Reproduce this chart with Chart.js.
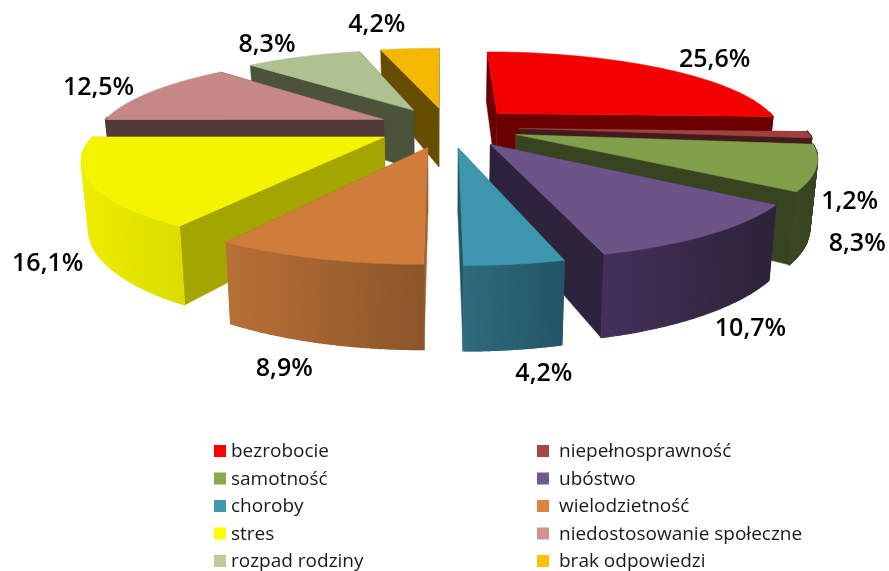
<!DOCTYPE html>
<html>
<head>
<meta charset="utf-8">
<style>
html, body { margin: 0; padding: 0; background: #fff; }
canvas { display: block; }
</style>
<script src="https://cdn.jsdelivr.net/npm/chart.js@4/dist/chart.umd.min.js"></script>
</head>
<body>
<canvas id="chart" width="889" height="571"></canvas>
<script>
const categories = ['bezrobocie', 'niepełnosprawność', 'samotność', 'ubóstwo', 'choroby',
    'wielodzietność', 'stres', 'niedostosowanie społeczne', 'rozpad rodziny', 'brak odpowiedzi'];
const percents = [25.6, 1.2, 8.3, 10.7, 4.2, 8.9, 16.1, 12.5, 8.3, 4.2];

const topColors = ['#f40000', '#a04040', '#82a04c', '#6c5489', '#3d96ae',
    '#d07c3b', '#f4f400', '#c68887', '#aec190', '#f5b800'];
const cutColors = ['#6b0000', '#451a1a', '#38431f', '#2e233d', '#235664',
    '#a06232', '#a5a500', '#52393a', '#4c533b', '#664d00'];
const wallFrom = ['#6b0000', '#451a1a', '#3a4721', '#43305a', '#2e6b7c',
    '#b87036', '#eeee00', '#52393a', '#4c533b', '#664d00'];
const wallTo = ['#6b0000', '#451a1a', '#38431f', '#2d2238', '#235564',
    '#8c5529', '#dcdc00', '#52393a', '#4c533b', '#664d00'];
const legendColors = ['#ff0000', '#a94444', '#8aa84e', '#71588f', '#4198af',
    '#db843d', '#ffff00', '#d09492', '#bacc97', '#ffc000'];
// label position relative to the middle of the slice's rim
const labelNudge = [[53, -8], [40, 67], [41, 76], [41, 94], [29, 110],
    [-33, 110], [-43, 81], [-52, -4], [-36, -12], [-33, -24]];

// view of the tilted pie
const view = { vanishX: 441, horizonY: -239, dist: 366, persp: 0.22, radius: 284, shiftX: 7, depth: 62, shrink: 0.98 };

function project(px, py, bottom) {
    const s = 1 / (1 - view.persp * py);
    let x = view.vanishX + (view.shiftX + view.radius * px) * s;
    let y = view.horizonY + view.dist * s;
    if (bottom) {
        x = view.vanishX + (x - view.vanishX) * view.shrink;
        y += view.depth * s;
    }
    return [x, y];
}

function poly(ctx, pts, fill, edge) {
    ctx.beginPath();
    pts.forEach((p, i) => i ? ctx.lineTo(p[0], p[1]) : ctx.moveTo(p[0], p[1]));
    ctx.closePath();
    ctx.fillStyle = fill;
    ctx.fill();
    // same colour stroke hides the seams
    ctx.strokeStyle = fill;
    ctx.lineWidth = edge || 0.5;
    ctx.stroke();
}

function drawSlice(ctx, arc, i) {
    const props = arc.getProps(['startAngle', 'endAngle', 'outerRadius']);
    const a0 = props.startAngle, a1 = props.endAngle;
    const off = arc.options.offset / props.outerRadius;
    const mid = (a0 + a1) / 2;
    const ox = Math.cos(mid) * off, oy = Math.sin(mid) * off;
    const at = a => [ox + Math.cos(a), oy + Math.sin(a)];

    const rim = [];
    const steps = 60;
    for (let k = 0; k <= steps; k++) rim.push(a0 + (a1 - a0) * k / steps);

    // two cut faces
    [a0, a1].forEach(a => {
        const p = at(a);
        poly(ctx, [project(ox, oy), project(p[0], p[1]), project(p[0], p[1], true), project(ox, oy, true)], cutColors[i]);
    });

    // outer wall, only the part turned to the viewer, as a strip of quads
    const front = rim.filter(a => Math.sin(a) > -0.03);
    if (front.length > 1) {
        const tops = front.map(a => project(...at(a)));
        const bots = front.map(a => project(...at(a), true));
        const xs = tops.map(p => p[0]);
        const grad = ctx.createLinearGradient(Math.min(...xs), 0, Math.max(...xs), 0);
        grad.addColorStop(0, wallFrom[i]);
        grad.addColorStop(1, wallTo[i]);
        for (let k = 0; k < tops.length - 1; k++) {
            poly(ctx, [tops[k], tops[k + 1], bots[k + 1], bots[k]], grad, 1.2);
        }
    }

    // top face
    poly(ctx, [project(ox, oy)].concat(rim.map(a => project(...at(a)))), topColors[i]);
}

function labelPoint(arc) {
    const props = arc.getProps(['startAngle', 'endAngle', 'outerRadius']);
    const mid = (props.startAngle + props.endAngle) / 2;
    const r = 1 + arc.options.offset / props.outerRadius;
    return project(Math.cos(mid) * r, Math.sin(mid) * r);
}

const pie3d = {
    id: 'pie3d',
    beforeDatasetsDraw(chart) {
        const ctx = chart.ctx;
        const arcs = chart.getDatasetMeta(0).data;
        const order = arcs.map((arc, i) => i).sort((a, b) => {
            const mid = n => (arcs[n].startAngle + arcs[n].endAngle) / 2;
            return Math.sin(mid(a)) - Math.sin(mid(b));
        });
        ctx.save();
        order.forEach(i => drawSlice(ctx, arcs[i], i));
        ctx.restore();
        return false;
    },
    afterDraw(chart) {
        const ctx = chart.ctx;
        const arcs = chart.getDatasetMeta(0).data;
        ctx.save();
        ctx.fillStyle = '#000';
        ctx.textBaseline = 'middle';
        ctx.textAlign = 'center';
        ctx.font = '600 25px "Open Sans"';
        percents.forEach((v, i) => {
            const p = labelPoint(arcs[i]);
            ctx.fillText(v.toFixed(1).replace('.', ',') + '%', p[0] + labelNudge[i][0], p[1] + labelNudge[i][1]);
        });
        // two column legend, filled row by row
        ctx.textAlign = 'left';
        ctx.font = '19px "Open Sans"';
        categories.forEach((name, i) => {
            const row = Math.floor(i / 2), col = i % 2;
            const y = 451 + row * 27.5;
            ctx.fillStyle = legendColors[i];
            ctx.fillRect(col ? 537 : 214, y - 6, 12, 12);
            ctx.fillStyle = '#1a1a1a';
            ctx.fillText(name, col ? 559 : 231, y + 1);
        });
        ctx.restore();
    }
};

new Chart(document.getElementById('chart').getContext('2d'), {
    type: 'pie',
    data: {
        labels: categories,
        datasets: [{
            data: percents,
            backgroundColor: topColors,
            borderWidth: 0,
            offset: 63.5
        }]
    },
    options: {
        responsive: false,
        animation: false,
        plugins: {
            legend: { display: false },
            tooltip: { enabled: false }
        }
    },
    plugins: [pie3d]
});
</script>
</body>
</html>
